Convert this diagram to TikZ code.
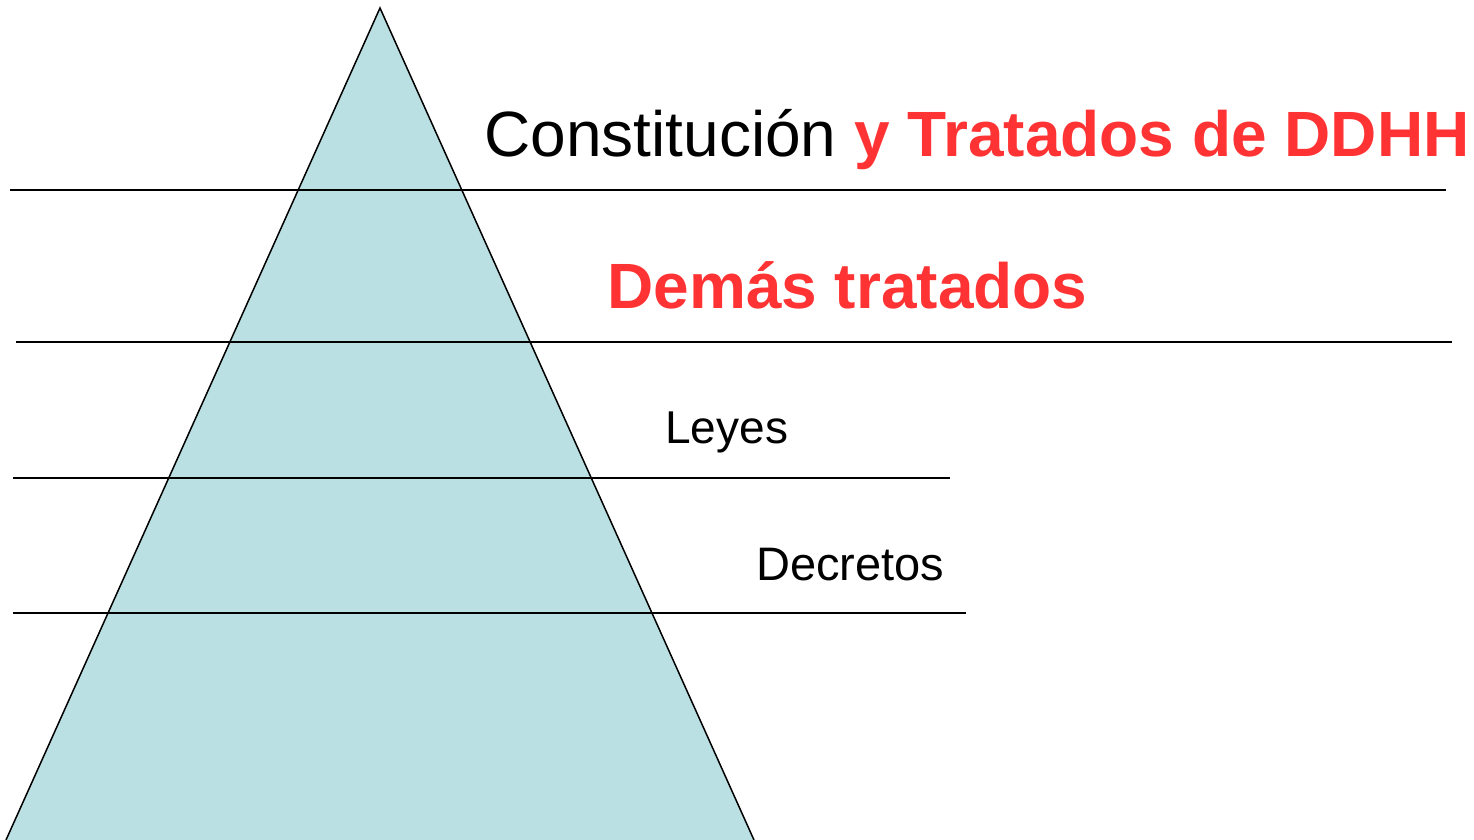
\documentclass[tikz,border=0pt]{standalone}
\usepackage{fontspec}
\setmainfont{Liberation Sans}
\definecolor{PyrFill}{RGB}{187, 224, 227}
\definecolor{LawRed}{RGB}{255, 51, 51}
\usetikzlibrary{positioning}

\begin{document}
\begin{tikzpicture}[x=0.5pt, y=-0.5pt, every node/.style={inner sep=0pt, anchor=base west}]
    \useasboundingbox (0,0) rectangle (1474,840);
    % piramide
    \draw[fill=PyrFill, line width=0.75pt] (6,840) -- (380,8) -- (754,840);
    % niveles
    \draw[line width=0.75pt] (10,190) -- (1446,190);
    \draw[line width=0.75pt] (16,342) -- (1452,342);
    \draw[line width=0.75pt] (13,478) -- (950,478);
    \draw[line width=0.75pt] (13,613) -- (966,613);

    \node[font=\fontsize{32}{38}\selectfont] (const) at (484,157) {Constitución \textcolor{LawRed}{\bfseries y Tratados de DDHH}};
    \node[font=\fontsize{32}{38}\selectfont\bfseries, text=LawRed] (demas) at (607,308) {Demás tratados};
    \node[font=\fontsize{23}{28}\selectfont] (leyes) at (665,443) {Leyes};
    \node[font=\fontsize{23.5}{28}\selectfont] (decr) at (756,580) {Decretos};
\end{tikzpicture}
\end{document}
